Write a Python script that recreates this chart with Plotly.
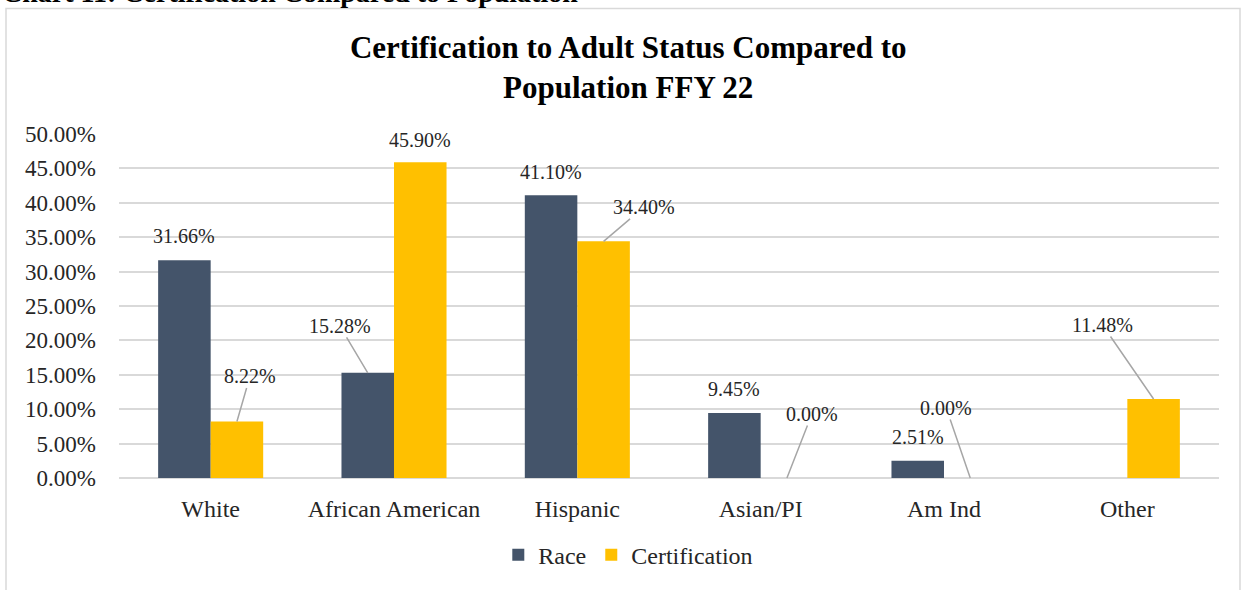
import plotly.graph_objects as go

categories = ["White", "African American", "Hispanic", "Asian/PI", "Am Ind", "Other"]
race = [31.66, 15.28, 41.10, 9.45, 2.51, None]
certification = [8.22, 45.90, 34.40, 0.00, 0.00, 11.48]

# label offsets in px (ax, ay); leader line drawn when ax is not 0
race_label_offsets = [(0, -24), (-28, -47), (0, -23), (0, -24), (0, -24), None]
cert_label_offsets = [(13, -45), (0, -22), (40, -34), (25, -64), (-24, -70), (-51, -74)]

RACE_COLOR = "#44546A"
CERT_COLOR = "#FFC000"
FONT = "Liberation Serif"
TEXT = "#262626"

W, H = 1244, 590
ML, MR, MT, MB = 119, 25, 134, 108
BARGAP = 0.427

plot_w = W - ML - MR
plot_h = H - MT - MB
bar_shift = plot_w / len(categories) * (1 - BARGAP) / 4

fig = go.Figure()
fig.add_trace(go.Bar(x=categories, y=race, name="Race",
                     marker=dict(color=RACE_COLOR, line=dict(width=0))))
fig.add_trace(go.Bar(x=categories, y=certification, name="Certification",
                     marker=dict(color=CERT_COLOR, line=dict(width=0))))

annotations = []
for values, offsets, shift in ((race, race_label_offsets, -bar_shift),
                               (certification, cert_label_offsets, bar_shift)):
    for cat, v, off in zip(categories, values, offsets):
        if v is None or off is None:
            continue
        ax, ay = off
        label = f"{v:.2f}%"
        if ax == 0:
            annotations.append(dict(x=cat, y=v, text=label, showarrow=False,
                                    xshift=shift, yshift=-ay,
                                    font=dict(family=FONT, size=20, color=TEXT)))
        else:
            annotations.append(dict(x=cat, y=v, text=label, showarrow=True,
                                    ax=ax, ay=ay, xshift=shift,
                                    arrowhead=0, arrowwidth=1.5, arrowcolor="#A6A6A6",
                                    standoff=0, borderpad=0,
                                    font=dict(family=FONT, size=20, color=TEXT)))

# partially cut caption above the chart frame (as in the source document)
annotations.append(dict(text="Chart 11: Certification Compared to Population",
                        xref="paper", yref="paper", x=(0 - ML) / plot_w,
                        y=(H - MB - 9) / plot_h, xanchor="left", yanchor="bottom",
                        showarrow=False,
                        font=dict(family=FONT, size=28, color="#000000", weight="bold")))

fig.update_layout(
    width=W, height=H,
    margin=dict(l=ML, r=MR, t=MT, b=MB),
    paper_bgcolor="white", plot_bgcolor="white",
    barmode="group", bargap=BARGAP, bargroupgap=0,
    font=dict(family=FONT, size=21, color=TEXT),
    title=dict(text="Certification to Adult Status Compared to<br>Population FFY 22",
               x=0.505, xanchor="center", y=0.902, yanchor="top",
               font=dict(family=FONT, size=31, color="#000000", weight="bold")),
    xaxis=dict(showgrid=False, showline=False, ticks="", ticklabelstandoff=14,
               tickfont=dict(size=24, color=TEXT)),
    yaxis=dict(range=[0, 50], dtick=5, tickformat=".2f", ticksuffix="%",
               showgrid=True, gridcolor="#D9D9D9", gridwidth=1.5,
               zeroline=True, zerolinecolor="#D9D9D9", zerolinewidth=1.5,
               ticks="", ticklabelstandoff=22, tickfont=dict(size=23, color=TEXT)),
    legend=dict(orientation="h", x=0.463, xanchor="center", y=-0.224, yanchor="middle",
                font=dict(size=24, color=TEXT), itemwidth=30, traceorder="normal"),
    showlegend=True,
    annotations=annotations,
    shapes=[dict(type="rect", xref="paper", yref="paper",
                 x0=(6 - ML) / plot_w, x1=(1240 - ML) / plot_w,
                 y0=(H - MB - 620) / plot_h, y1=(H - MB - 7) / plot_h,
                 line=dict(color="#D9D9D9", width=1.5), layer="below")],
)

fig.write_html("out.html", config={"displayModeBar": False},
               post_script="document.body.style.margin = '0';")
